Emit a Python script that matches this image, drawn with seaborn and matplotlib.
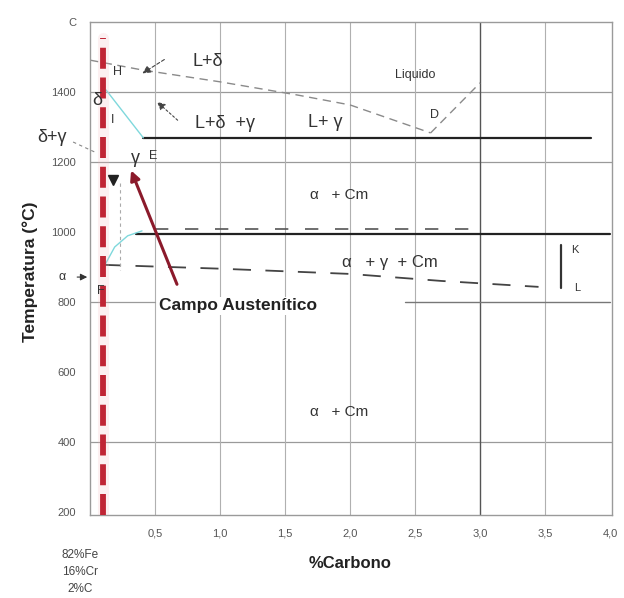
import matplotlib
matplotlib.use("Agg")
import matplotlib.pyplot as plt
import seaborn as sns
import pandas as pd

sns.set_theme(style="white")
plt.rcParams['font.family'] = ['Liberation Sans', 'DejaVu Sans']

# ---------------- data ----------------
x_ticks = [0.5, 1.0, 1.5, 2.0, 2.5, 3.0, 3.5, 4.0]
x_tick_labels = ["0,5", "1,0", "1,5", "2,0", "2,5", "3,0", "3,5", "4,0"]
y_ticks = [1600, 1400, 1200, 1000, 800, 600, 400, 200]
y_tick_labels = ["C", "1400", "1200", "1000", "800", "600", "400", "200"]

liquidus_c = [0.0, 0.4, 1.0, 1.6, 2.0, 2.62]
liquidus_t = [1491, 1463, 1429, 1391, 1363, 1283]
liquidus_right_c = [2.62, 3.0]
liquidus_right_t = [1283, 1426]
solidus_c = [0.41, 3.85]
solidus_t = [1269, 1269]
upper_c = [0.35, 4.0]
upper_t = [995, 995]
upper_dash_c = [0.5, 3.0]
upper_dash_t = [1008, 1008]
lower_c = [0.1, 1.0, 2.0, 2.7, 3.45]
lower_t = [906, 895, 880, 860, 843]
kl_c = [3.62, 3.62]
kl_t = [963, 840]
delta_gamma_c = [0.123, 0.41]
delta_gamma_t = [1406, 1269]
a3_c = [0.115, 0.19, 0.29, 0.40]
a3_t = [906, 957, 989, 1003]
alloy_c = 0.1          # 82%Fe 16%Cr 2%C
grid_h = [1400, 1200, 400]
grid_v = [0.5, 1.0, 1.5, 2.0, 2.5, 3.0, 3.5]

# ---------------- figure ----------------
fig = plt.figure(figsize=(6.24, 5.98), dpi=100)
ax = fig.add_axes([90/624, 1-515/598, (612-90)/624, (515-22)/598])
ax.set_xlim(0, 4.015)
ax.set_ylim(191, 1600)

for t in grid_h:
    ax.axhline(t, color="#9a9a9a", lw=0.9, zorder=1)
for c in grid_v:
    ax.axvline(c, color="#555555" if c == 3.0 else "#b0b0b0", lw=1.0 if c == 3.0 else 0.8, zorder=1)
# partial 800 line
ax.plot([0, 0.5], [800, 800], color="#9a9a9a", lw=0.9, zorder=1)
ax.plot([2.42, 4.0], [800, 800], color="#777777", lw=1.0, zorder=1)

def seg(c, t, **kw):
    sns.lineplot(x=c, y=t, ax=ax, sort=False, estimator=None, legend=False, **kw)

seg(liquidus_c, liquidus_t, color="#8a8a8a", lw=1.0, linestyle=(0, (6, 4)))
seg(liquidus_right_c, liquidus_right_t, color="#8a8a8a", lw=1.0, linestyle=(0, (6, 4)))
seg(solidus_c, solidus_t, color="#222222", lw=1.6)
seg(upper_c, upper_t, color="#222222", lw=1.6)
seg(upper_dash_c, upper_dash_t, color="#555555", lw=1.2, linestyle=(0, (8, 10)))
seg(lower_c, lower_t, color="#444444", lw=1.3, linestyle=(0, (10, 8)))
seg(kl_c, kl_t, color="#333333", lw=1.6)
seg(delta_gamma_c, delta_gamma_t, color="#7fd8dc", lw=1.0)
seg(a3_c, a3_t, color="#7fd8dc", lw=1.0)
ax.plot([0.23, 0.23], [1140, 891], color="#aaaaaa", lw=0.8, linestyle=(0, (3, 3)))

# alloy line (red dashed)
ymax_frac = (1554-191)/(1600-191)
ax.axvline(alloy_c, ymin=0, ymax=ymax_frac, color="#f4b6bd", lw=8, alpha=0.2, zorder=3)
ax.axvline(alloy_c, ymin=0, ymax=ymax_frac, color="#c02535", lw=4.2,
           linestyle=(0, (3.6, 1.5)), zorder=4)

# ---------------- annotations ----------------
tc = "#333333"
ax.text(0.215, 1457, "H", fontsize=9, color=tc, ha="center", va="center")
ax.text(0.908, 1486, "L+δ", fontsize=13, color=tc, ha="center", va="center")
ax.text(0.054, 1377, "δ", fontsize=13, color=tc, ha="center", va="center", zorder=5)
ax.text(0.177, 1320, "I", fontsize=9, color=tc, ha="center", va="center")
ax.text(1.04, 1311, "L+δ  +γ", fontsize=13, color=tc, ha="center", va="center")
ax.text(1.81, 1314, "L+ γ", fontsize=13, color=tc, ha="center", va="center")
ax.text(2.5, 1449, "Liquido", fontsize=9, color=tc, ha="center", va="center")
ax.text(2.65, 1334, "D", fontsize=9, color=tc, ha="center", va="center")
ax.text(-0.29, 1271, "δ+γ", fontsize=13, color=tc, ha="center", va="center", clip_on=False)
ax.plot([-0.13, 0.05], [1257, 1226], color="#888888", lw=0.8, linestyle=(0, (3, 3)), clip_on=False)
ax.text(0.346, 1211, "γ", fontsize=13, color=tc, ha="center", va="center")
ax.text(0.485, 1217, "E", fontsize=9, color=tc, ha="center", va="center")
ax.text(1.92, 1106, "α   + Cm", fontsize=11, color=tc, ha="center", va="center")
ax.text(2.31, 914, "α   + γ  + Cm", fontsize=12, color=tc, ha="center", va="center")
ax.text(3.73, 949, "K", fontsize=8, color=tc, ha="center", va="center")
ax.text(3.75, 840, "L", fontsize=8, color=tc, ha="center", va="center")
ax.annotate("", xy=(0.0, 871), xytext=(-0.12, 871), annotation_clip=False,
            arrowprops=dict(arrowstyle="-|>", color="#333333", lw=0.8, mutation_scale=10))
ax.text(-0.215, 871, "α", fontsize=9, color=tc, ha="center", va="center", clip_on=False)
ax.text(0.085, 831, "F", fontsize=9, color=tc, ha="center", va="center", zorder=5)
ax.text(1.915, 486, "α   + Cm", fontsize=11, color=tc, ha="center", va="center")

# arrows pointing to H and to L+δ+γ region
ax.annotate("", xy=(0.385, 1449), xytext=(0.59, 1497),
            arrowprops=dict(arrowstyle="-|>", color="#444444", lw=0.8, linestyle=(0, (3, 2)), mutation_scale=12))
ax.annotate("", xy=(0.5, 1377), xytext=(0.69, 1314),
            arrowprops=dict(arrowstyle="-|>", color="#444444", lw=0.8, linestyle=(0, (2, 2)), mutation_scale=12))
ax.plot([0.177], [1149], marker="v", color="#222222", markersize=7, zorder=6)

# Campo Austenitico arrow
ax.annotate("", xy=(0.308, 1183), xytext=(0.677, 843),
            arrowprops=dict(arrowstyle="-|>", color="#8b1a2b", lw=2.2, mutation_scale=14))
ax.text(1.135, 789, "Campo Austenítico", fontsize=12.5, fontweight="bold", color="#222222",
        ha="center", va="center", bbox=dict(facecolor="white", edgecolor="none", pad=1), zorder=6)

# ---------------- axes styling ----------------
ax.set_xticks(x_ticks)
ax.set_xticklabels(x_tick_labels, fontsize=8, color="#555555")
ax.set_yticks(y_ticks)
ax.set_yticklabels(y_tick_labels, fontsize=8, color="#555555")
ax.tick_params(length=0, pad=10)
for s in ax.spines.values():
    s.set_color("#9a9a9a")
    s.set_linewidth(1.0)
ax.set_xlabel("")
ax.set_ylabel("")
fig.text(30/624, 1-272/598, "Temperatura (°C)", rotation=90, fontsize=12.5, fontweight="bold",
         color="#222222", ha="center", va="center")
fig.text(350/624, 1-563/598, "%Carbono", fontsize=12, fontweight="bold",
         color="#222222", ha="center", va="center")
fig.text(80/624, 1-572/598, "82%Fe\n16%Cr\n2%C", fontsize=8.5, color="#444444",
         ha="center", va="center", linespacing=1.5)

fig.savefig("out.png", dpi=100)
